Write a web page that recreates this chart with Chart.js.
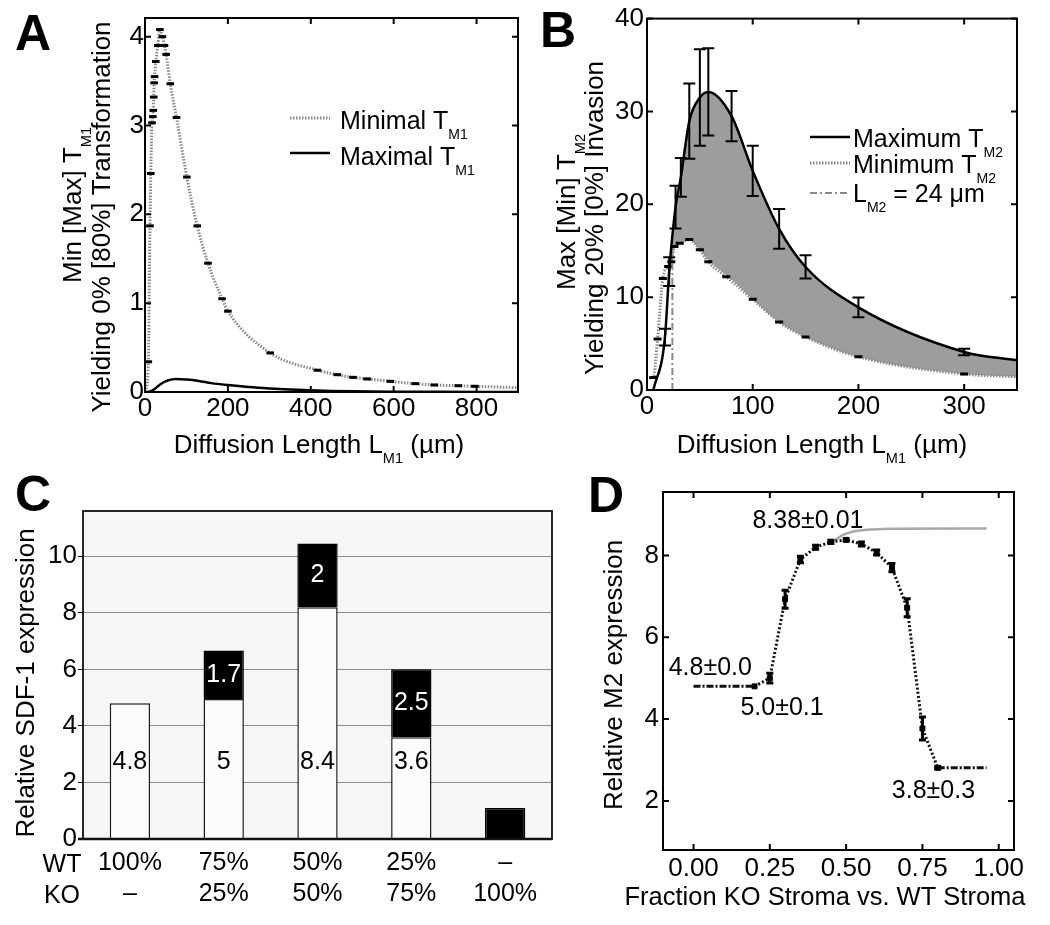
<!DOCTYPE html>
<html><head><meta charset="utf-8">
<script src="https://cdn.jsdelivr.net/npm/chart.js@4.4.1/dist/chart.umd.min.js"></script>
<style>
html,body{margin:0;padding:0;background:#fff;}
#wrap{position:relative;width:1050px;height:925px;background:#fff;}
canvas{position:absolute;left:0;top:0;}
</style></head><body>
<div id="wrap">
<canvas id="cA" width="1050" height="925"></canvas>
<canvas id="cB" width="1050" height="925"></canvas>
<canvas id="cC" width="1050" height="925"></canvas>
<canvas id="cD" width="1050" height="925"></canvas>
</div>
<script>
// ================= DATA =================
// Panel A : Diffusion length L_M1 (µm) vs T_M1
const A_MIN_X = [2, 8, 12, 14, 17, 19, 20, 21, 22, 23, 26, 31, 36, 42, 47, 51, 61, 76, 101, 126, 152, 186, 200, 302, 416, 464, 502, 536, 592, 652, 698, 756, 796, 900];
const A_MIN_Y = [0, 0.34, 1.87, 2.46, 3.03, 3.1, 3.17, 3.32, 3.48, 3.55, 3.72, 3.9, 4.08, 4.0, 3.9, 3.8, 3.47, 3.09, 2.42, 1.87, 1.45, 1.05, 0.91, 0.44, 0.245, 0.195, 0.165, 0.147, 0.12, 0.094, 0.079, 0.071, 0.064, 0.049];
const A_MAX_X = [5, 15, 25, 35, 45, 55, 65, 75, 100, 130, 160, 200, 250, 300, 350, 400, 450, 500, 600, 700, 900];
const A_MAX_Y = [0, 0.01, 0.04, 0.08, 0.11, 0.13, 0.142, 0.146, 0.14, 0.124, 0.1, 0.078, 0.056, 0.04, 0.028, 0.019, 0.012, 0.008, 0.004, 0.002, 0.001];

// Panel B : Diffusion length L_M1 (µm) vs T_M2
const B_MAX_X   = [6, 17, 21, 27, 32, 40, 50, 58, 80, 100, 125, 150, 200, 300, 350];
const B_MAX_Y   = [0, 5.7, 12.75, 19.7, 22.9, 28.95, 31.5, 32.1, 29.5, 23.6, 17.35, 13.25, 8.9, 4.1, 3.2];
const B_MAX_ERR = [0, 0.9, 1.55, 2.3, 2.1, 4.05, 5.2, 4.7, 2.7, 2.7, 2.15, 1.25, 1.07, 0.35, 0];
const B_MIN_X   = [2, 6, 10, 15, 20, 23, 26, 31, 40, 50, 58, 75, 100, 125, 150, 200, 300, 350];
const B_MIN_Y   = [1.3, 1.35, 5.5, 12.0, 13.3, 13.8, 15.45, 15.8, 16.2, 15.1, 13.8, 12.2, 9.77, 7.33, 5.72, 3.58, 1.72, 1.43];
const B_FILL_X   = [24, 27, 32, 40, 50, 58, 80, 100, 125, 150, 200, 300, 350];
const B_FILL_TOP = [15.4, 19.7, 22.9, 28.95, 31.5, 32.1, 29.5, 23.6, 17.35, 13.25, 8.9, 4.1, 3.2];
const B_FILL_BOT = [15.4, 15.5, 15.8, 16.2, 15.1, 14.0, 11.9, 9.77, 7.33, 5.72, 3.58, 1.72, 1.43];
const B_LM2_X = [24, 24];
const B_LM2_Y = [0, 15.4];

// Panel C : Relative SDF-1 expression
const C_WT_LABELS = ['100%', '75%', '50%', '25%', '\u2013'];
const C_KO_LABELS = ['\u2013', '25%', '50%', '75%', '100%'];
const C_WT = [4.8, 4.95, 8.2, 3.6, null];
const C_KO = [null, 1.72, 2.25, 2.4, 1.1];
const C_WT_TEXT = ['4.8', '5', '8.4', '3.6', ''];
const C_KO_TEXT = ['', '1.7', '2', '2.5', ''];
const C_WT_TEXT_LEVEL = 2.72;

// Panel D : Relative M2 expression vs fraction KO stroma
const D_LEFT_X = [0, 0.05, 0.1, 0.15, 0.2];
const D_LEFT_Y = [4.8, 4.8, 4.8, 4.8, 4.8];
const D_MID_X   = [0.2, 0.25, 0.3, 0.35, 0.4, 0.45, 0.5, 0.55, 0.6, 0.65, 0.7, 0.75, 0.8];
const D_MID_Y   = [4.8, 5.0, 6.93, 7.9, 8.2, 8.33, 8.38, 8.28, 8.07, 7.7, 6.72, 3.77, 2.81];
const D_MID_ERR = [0, 0.12, 0.22, 0.08, 0.05, 0.04, 0.03, 0.05, 0.06, 0.1, 0.22, 0.28, 0.03];
const D_RIGHT_X = [0.8, 0.85, 0.9, 0.96];
const D_RIGHT_Y = [2.81, 2.81, 2.81, 2.81];
const D_GRAY_X = [0.46, 0.49, 0.52, 0.56, 0.65, 0.96];
const D_GRAY_Y = [8.36, 8.5, 8.58, 8.62, 8.65, 8.66];
const D_ANNOT = ['8.38\u00b10.01', '4.8\u00b10.0', '5.0\u00b10.1', '3.8\u00b10.3'];
const D_ANNOT_X = [0.375, 0.055, 0.29, 0.786];
const D_ANNOT_Y = [8.66, 5.07, 4.1, 2.07];

// ================= HELPERS =================
const W = 1050, H = 925;
const FF = "'Liberation Sans', Arial, Helvetica, sans-serif";
const ROT = -Math.PI / 2;
const TICK_FONT = 26;
const pts = (xs, ys) => xs.map((x, i) => ({x: x, y: ys[i]}));

function parseRich(s) {
  const out = []; const re = /_\{([^}]*)\}/g; let last = 0, m;
  while ((m = re.exec(s))) {
    if (m.index > last) out.push({t: s.slice(last, m.index), sub: false});
    out.push({t: m[1], sub: true}); last = re.lastIndex;
  }
  if (last < s.length) out.push({t: s.slice(last), sub: false});
  return out;
}
function drawRich(ctx, s, x, y, o) {
  const size = o.size || 25, sub = size * 0.56;
  const fMain = (o.bold ? 'bold ' : '') + size + 'px ' + FF, fSub = sub + 'px ' + FF;
  const parts = parseRich(s);
  ctx.save(); ctx.translate(x, y); if (o.rot) ctx.rotate(o.rot);
  let w = 0; parts.forEach(p => { ctx.font = p.sub ? fSub : fMain; p.w = ctx.measureText(p.t).width; w += p.w; });
  let cx = o.align === 'center' ? -w / 2 : (o.align === 'right' ? -w : 0);
  ctx.fillStyle = o.color || '#000'; ctx.textBaseline = 'alphabetic'; ctx.textAlign = 'left';
  parts.forEach(p => { ctx.font = p.sub ? fSub : fMain; ctx.fillText(p.t, cx, p.sub ? size * 0.38 : 0); cx += p.w; });
  ctx.restore();
}

const textPlugin = {
  id: 'richText',
  afterDraw(chart, args, o) {
    (o.items || []).forEach(it => {
      let x = it.x, y = it.y;
      if (it.dx !== undefined) { x = chart.scales.x.getPixelForValue(it.dx); y = chart.scales.y.getPixelForValue(it.dy); }
      drawRich(chart.ctx, it.s, x, y, {size: it.size, bold: it.bold, rot: it.rot, align: it.align});
    });
  }
};
const legendPlugin = {
  id: 'richLegend',
  afterDraw(chart, args, o) {
    if (!o.items) return;
    const ctx = chart.ctx;
    o.items.forEach(it => {
      const ds = chart.data.datasets[it.ds];
      ctx.save(); ctx.strokeStyle = ds.borderColor; ctx.lineWidth = ds.borderWidth;
      ctx.setLineDash(ds.borderDash || []);
      ctx.beginPath(); ctx.moveTo(o.x0, it.ly); ctx.lineTo(o.x1, it.ly); ctx.stroke(); ctx.restore();
      drawRich(ctx, ds.label, o.tx, it.ty, {size: 25});
    });
  }
};
const boxPlugin = {
  id: 'mlBox',
  afterDatasetsDraw(chart, args, o) {
    if (!o.on) return;
    const ctx = chart.ctx, a = chart.chartArea, x = chart.scales.x, y = chart.scales.y, L = o.len;
    ctx.save(); ctx.strokeStyle = '#000'; ctx.lineWidth = o.lw; ctx.setLineDash([]);
    ctx.strokeRect(a.left, a.top, a.right - a.left, a.bottom - a.top);
    ctx.beginPath();
    x.ticks.forEach(t => { const p = x.getPixelForValue(t.value);
      ctx.moveTo(p, a.bottom); ctx.lineTo(p, a.bottom - L); ctx.moveTo(p, a.top); ctx.lineTo(p, a.top + L); });
    y.ticks.forEach(t => { const p = y.getPixelForValue(t.value);
      ctx.moveTo(a.left, p); ctx.lineTo(a.left + L, p); ctx.moveTo(a.right, p); ctx.lineTo(a.right - L, p); });
    ctx.stroke(); ctx.restore();
  }
};
const errPlugin = {
  id: 'errBars',
  afterDatasetsDraw(chart) {
    const ctx = chart.ctx, x = chart.scales.x, y = chart.scales.y;
    chart.data.datasets.forEach(ds => {
      if (!ds.errBars) return;
      const e = ds.errBars;
      ctx.save(); ctx.strokeStyle = e.color; ctx.lineWidth = e.lw; ctx.setLineDash([]);
      ds.data.forEach((p, j) => {
        const v = e.err[j]; if (!v) return;
        const px = x.getPixelForValue(p.x), y1 = y.getPixelForValue(p.y + v), y2 = y.getPixelForValue(p.y - v), c = e.cap;
        ctx.beginPath();
        ctx.moveTo(px, y1); ctx.lineTo(px, y2);
        ctx.moveTo(px - c, y1); ctx.lineTo(px + c, y1);
        ctx.moveTo(px - c, y2); ctx.lineTo(px + c, y2);
        ctx.stroke();
      });
      ctx.restore();
    });
  }
};

function linScale(min, max, step, pad, cb) {
  const t = {stepSize: step, includeBounds: false, padding: pad, color: '#000', font: {size: TICK_FONT}, maxRotation: 0, autoSkip: false};
  if (cb) t.callback = cb;
  return {type: 'linear', min: min, max: max, grid: {display: false, drawTicks: false}, border: {display: false}, ticks: t};
}
function mkChart(id, type, data, opts, plugins, box, xh) {
  const L = box[0], T = box[1], R = box[2], B = box[3];
  opts.responsive = false; opts.animation = false; opts.devicePixelRatio = 1; opts.events = [];
  opts.layout = {padding: {left: 0, top: T, right: W - R, bottom: H - B - xh}};
  opts.scales.x.afterFit = s => { s.height = xh; };
  opts.scales.y.afterFit = s => { s.width = L; };
  opts.plugins = Object.assign({legend: {display: false}, tooltip: {enabled: false}}, opts.plugins || {});
  return new Chart(document.getElementById(id), {type: type, data: data, options: opts, plugins: plugins});
}
Chart.defaults.font.family = FF;
Chart.defaults.color = '#000';

const GRAY_DOT = '#8a8a8a';
const endsHidden = (n, r) => (c => (c.dataIndex === 0 || c.dataIndex === n - 1) ? 0 : r);

// ================= PANEL A =================
mkChart('cA', 'line', {datasets: [
  {label: 'Minimal T_{M1}', data: pts(A_MIN_X, A_MIN_Y), borderColor: GRAY_DOT, borderWidth: 3, borderDash: [1.5, 1.5],
   cubicInterpolationMode: 'monotone', pointStyle: 'line', pointRadius: endsHidden(A_MIN_X.length, 3.8),
   pointBorderColor: '#000', pointBorderWidth: 3, fill: false},
  {label: 'Maximal T_{M1}', data: pts(A_MAX_X, A_MAX_Y), borderColor: '#000', borderWidth: 2.5,
   cubicInterpolationMode: 'monotone', pointRadius: 0, fill: false}
]}, {
  scales: {x: linScale(0, 900, 200, 1), y: linScale(0, 4.21, 1, 1)},
  plugins: {
    mlBox: {on: true, lw: 2, len: 6},
    richLegend: {x0: 290, x1: 330, tx: 340, items: [{ds: 0, ly: 118, ty: 129}, {ds: 1, ly: 153, ty: 165}]},
    richText: {items: [
      {s: 'A', x: 15, y: 50, size: 50, bold: true},
      {s: 'Min [Max] T_{M1}', x: 81, y: 205, rot: ROT, align: 'center', size: 26},
      {s: 'Yielding 0% [80%] Transformation', x: 110, y: 217, rot: ROT, align: 'center', size: 26},
      {s: 'Diffusion Length L_{M1} (\u00b5m)', x: 319, y: 453, align: 'center', size: 26}
    ]}
  }
}, [boxPlugin, legendPlugin, textPlugin], [145, 18, 518, 392], 40);

// ================= PANEL B =================
mkChart('cB', 'line', {datasets: [
  {label: 'fill-top', data: pts(B_FILL_X, B_FILL_TOP), borderWidth: 0, borderColor: 'rgba(0,0,0,0)', pointRadius: 0,
   cubicInterpolationMode: 'monotone', fill: 1, backgroundColor: '#9d9d9d', order: 10},
  {label: 'fill-bot', data: pts(B_FILL_X, B_FILL_BOT), borderWidth: 0, borderColor: 'rgba(0,0,0,0)', pointRadius: 0,
   cubicInterpolationMode: 'monotone', fill: false, order: 9},
  {label: 'Minimum T_{M2}', data: pts(B_MIN_X, B_MIN_Y), borderColor: GRAY_DOT, borderWidth: 3, borderDash: [1.5, 1.5],
   cubicInterpolationMode: 'monotone', pointStyle: 'line', pointRadius: endsHidden(B_MIN_X.length, 4),
   pointBorderColor: '#000', pointBorderWidth: 3, fill: false, order: 3},
  {label: 'Maximum T_{M2}', data: pts(B_MAX_X, B_MAX_Y), borderColor: '#000', borderWidth: 2.5,
   cubicInterpolationMode: 'monotone', pointRadius: 0, fill: false, order: 1,
   errBars: {err: B_MAX_ERR, cap: 6, lw: 2, color: '#000'}},
  {label: 'L_{M2} = 24 \u03bcm', data: pts(B_LM2_X, B_LM2_Y), borderColor: GRAY_DOT, borderWidth: 2,
   borderDash: [7, 3, 2, 3], pointRadius: 0, fill: false, order: 2}
]}, {
  scales: {x: linScale(0, 350, 100, 1), y: linScale(0, 40, 10, 3)},
  plugins: {
    mlBox: {on: true, lw: 2, len: 6},
    richLegend: {x0: 810, x1: 850, tx: 853, items: [{ds: 3, ly: 137, ty: 147}, {ds: 2, ly: 163, ty: 173}, {ds: 4, ly: 193, ty: 202}]},
    richText: {items: [
      {s: 'B', x: 540, y: 47, size: 50, bold: true},
      {s: 'Max [Min] T_{M2}', x: 575, y: 212, rot: ROT, align: 'center', size: 26},
      {s: 'Yielding 20% [0%] Invasion', x: 603, y: 218, rot: ROT, align: 'center', size: 26},
      {s: 'Diffusion Length L_{M1} (\u00b5m)', x: 822, y: 453, align: 'center', size: 26}
    ]}
  }
}, [errPlugin, boxPlugin, legendPlugin, textPlugin], [647, 17, 1017, 390], 40);

// ================= PANEL C =================
const cBackground = {
  id: 'cBack',
  beforeDraw(chart) {
    const a = chart.chartArea, ctx = chart.ctx;
    ctx.save(); ctx.fillStyle = '#f6f6f6'; ctx.fillRect(a.left, a.top, a.right - a.left, a.bottom - a.top); ctx.restore();
  },
  afterDatasetsDraw(chart) {
    const a = chart.chartArea, ctx = chart.ctx, y = chart.scales.y;
    ctx.save();
    ctx.font = '25px ' + FF; ctx.textAlign = 'center'; ctx.textBaseline = 'middle';
    chart.getDatasetMeta(0).data.forEach((bar, i) => {
      if (!C_WT_TEXT[i]) return; ctx.fillStyle = '#000';
      ctx.fillText(C_WT_TEXT[i], bar.x, y.getPixelForValue(C_WT_TEXT_LEVEL));
    });
    chart.getDatasetMeta(1).data.forEach((bar, i) => {
      if (!C_KO_TEXT[i]) return; ctx.fillStyle = '#fff';
      ctx.fillText(C_KO_TEXT[i], bar.x, (bar.y + bar.base) / 2);
    });
    ctx.strokeStyle = '#111'; ctx.lineWidth = 1.8;
    ctx.strokeRect(a.left, a.top, a.right - a.left, a.bottom - a.top);
    ctx.lineWidth = 2.5; ctx.beginPath(); ctx.moveTo(a.left - 5, a.bottom); ctx.lineTo(a.right, a.bottom); ctx.stroke();
    ctx.restore();
  }
};
mkChart('cC', 'bar', {
  labels: C_WT_LABELS.map((w, i) => [w, C_KO_LABELS[i]]),
  datasets: [
    {label: 'WT', data: C_WT, backgroundColor: '#fcfcfc', borderColor: '#1a1a1a', borderWidth: 1.5, barPercentage: 0.43, categoryPercentage: 1},
    {label: 'KO', data: C_KO, backgroundColor: '#000', borderColor: '#000', borderWidth: 1.5, barPercentage: 0.43, categoryPercentage: 1}
  ]}, {
  scales: {
    x: {stacked: true, grid: {display: false, drawTicks: false}, border: {display: false},
        ticks: {font: {size: 25, lineHeight: 1.24}, color: '#000', padding: 9, maxRotation: 0, autoSkip: false}},
    y: {stacked: true, min: 0, max: 11.6, border: {display: false},
        grid: {color: '#8c8c8c', lineWidth: 1, tickColor: '#000', tickLength: 5, drawTicks: true},
        ticks: {stepSize: 2, includeBounds: false, padding: 1, color: '#000', font: {size: TICK_FONT}}}
  },
  plugins: {
    richText: {items: [
      {s: 'C', x: 15, y: 511, size: 50, bold: true},
      {s: 'Relative SDF-1 expression', x: 34, y: 683, rot: ROT, align: 'center', size: 26},
      {s: 'WT', x: 62, y: 872, align: 'center'},
      {s: 'KO', x: 62, y: 903, align: 'center'}
    ]}
  }
}, [cBackground, textPlugin], [83, 511, 552, 839], 80);

// ================= PANEL D =================
mkChart('cD', 'line', {datasets: [
  {label: 'plateau', data: pts(D_GRAY_X, D_GRAY_Y), borderColor: '#a8a8a8', borderWidth: 2.5, pointRadius: 0,
   cubicInterpolationMode: 'monotone', fill: false, order: 5},
  {label: 'WT only', data: pts(D_LEFT_X, D_LEFT_Y), borderColor: '#111', borderWidth: 3, borderDash: [7, 2, 2, 2],
   pointRadius: 0, fill: false, order: 2},
  {label: 'mixed', data: pts(D_MID_X, D_MID_Y), borderColor: '#111', borderWidth: 3, borderDash: [2, 2.2],
   pointStyle: 'rect', pointRadius: 3.5, pointBackgroundColor: '#000', pointBorderColor: '#000', pointBorderWidth: 1,
   fill: false, order: 1, errBars: {err: D_MID_ERR, cap: 3.5, lw: 3, color: '#000'}},
  {label: 'KO only', data: pts(D_RIGHT_X, D_RIGHT_Y), borderColor: '#111', borderWidth: 3, borderDash: [7, 2, 2, 2],
   pointRadius: 0, fill: false, order: 2}
]}, {
  scales: {
    x: linScale(-0.1, 1.05, 0.25, 3, v => Number(v).toFixed(2)),
    y: linScale(0.8, 9.55, 2, 4)
  },
  plugins: {
    mlBox: {on: true, lw: 2, len: 6},
    richText: {items: [
      {s: 'D', x: 588, y: 512, size: 50, bold: true},
      {s: 'Relative M2 expression', x: 622, y: 675, rot: ROT, align: 'center', size: 26},
      {s: 'Fraction KO Stroma vs. WT Stroma', x: 825, y: 905, align: 'center', size: 25.5},
      {s: D_ANNOT[0], dx: D_ANNOT_X[0], dy: D_ANNOT_Y[0], align: 'center'},
      {s: D_ANNOT[1], dx: D_ANNOT_X[1], dy: D_ANNOT_Y[1], align: 'center'},
      {s: D_ANNOT[2], dx: D_ANNOT_X[2], dy: D_ANNOT_Y[2], align: 'center'},
      {s: D_ANNOT[3], dx: D_ANNOT_X[3], dy: D_ANNOT_Y[3], align: 'center'}
    ]}
  }
}, [errPlugin, boxPlugin, textPlugin], [663, 492, 1014, 850], 40);
</script>
</body></html>
